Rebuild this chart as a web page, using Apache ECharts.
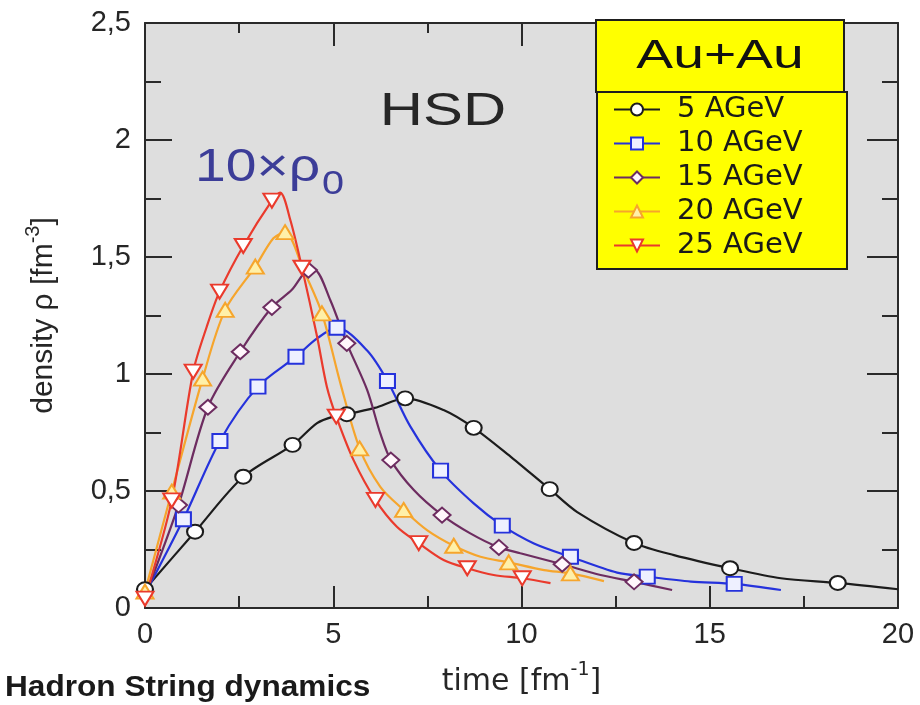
<!DOCTYPE html>
<html><head><meta charset="utf-8">
<script src="https://cdn.jsdelivr.net/npm/echarts@6/dist/echarts.min.js"></script>
<style>html,body{margin:0;padding:0;background:#fff}#c{width:920px;height:705px}</style>
</head><body><div id="c"></div>
<script>
// ---------- data ----------
const seriesNames = ['5 AGeV', '10 AGeV', '15 AGeV', '20 AGeV', '25 AGeV'];
const xTickLabels = ['0', '5', '10', '15', '20'];
const yTickLabels = ['0', '0,5', '1', '1,5', '2', '2,5'];

// 5 AGeV (curve + markers)
const curve5 = [[0,0.08],[1.33,0.326],[2.61,0.561],[3.92,0.697],[4.57,0.79],[5.0,0.818],[5.36,0.828],[6.1,0.855],[6.91,0.896],[7.93,0.846],[8.73,0.77],[9.71,0.647],[10.24,0.576],[10.75,0.508],[11.48,0.41],[12.99,0.278],[14.05,0.226],[15.54,0.17],[16.89,0.127],[18.4,0.107],[20,0.08]];
const marks5 = [[0,0.08],[1.33,0.326],[2.61,0.561],[3.92,0.697],[5.36,0.828],[6.91,0.896],[8.73,0.77],[10.75,0.508],[12.99,0.278],[15.54,0.17],[18.4,0.107]];
// 10 AGeV
const curve10 = [[0,0.06],[1.02,0.379],[1.99,0.714],[3.0,0.946],[4.01,1.074],[4.57,1.152],[5.1,1.198],[5.9,1.1],[6.44,0.97],[7.05,0.775],[7.85,0.587],[8.73,0.447],[9.49,0.352],[10.33,0.276],[11.3,0.219],[12.54,0.151],[13.34,0.134],[14.5,0.113],[15.65,0.103],[16.89,0.077]];
const marks10 = [[1.02,0.379],[1.99,0.714],[3.0,0.946],[4.01,1.074],[5.1,1.198],[6.44,0.97],[7.85,0.587],[9.49,0.352],[11.3,0.219],[13.34,0.134],[15.65,0.103]];
// 15 AGeV
const curve15 = [[0,0.05],[0.89,0.44],[1.67,0.858],[2.53,1.095],[3.37,1.285],[3.9,1.36],[4.34,1.444],[4.5,1.445],[4.92,1.316],[5.36,1.131],[5.9,0.932],[6.25,0.746],[6.53,0.632],[7.14,0.504],[7.89,0.397],[8.64,0.319],[9.4,0.259],[9.97,0.234],[11.08,0.187],[12.1,0.141],[12.99,0.112],[14.0,0.077]];
const marks15 = [[0.89,0.44],[1.67,0.858],[2.53,1.095],[3.37,1.285],[4.34,1.444],[5.36,1.131],[6.53,0.632],[7.89,0.397],[9.4,0.259],[11.08,0.187],[12.99,0.112]];
// 20 AGeV
const curve20 = [[0,0.07],[0.71,0.497],[1.53,0.98],[2.13,1.274],[2.93,1.459],[3.41,1.58],[3.72,1.606],[4.21,1.444],[4.7,1.259],[5.19,0.96],[5.7,0.682],[6.25,0.518],[6.87,0.419],[7.49,0.333],[8.2,0.266],[8.91,0.219],[9.66,0.195],[10.6,0.162],[11.3,0.148],[12.19,0.115]];
const marks20 = [[0,0.07],[0.71,0.497],[1.53,0.98],[2.13,1.274],[2.93,1.459],[3.72,1.606],[4.7,1.259],[5.7,0.682],[6.87,0.419],[8.2,0.266],[9.66,0.195],[11.3,0.148]];
// 25 AGeV
const curve25 = [[0,0.04],[0.71,0.46],[1.28,1.01],[1.64,1.202],[1.98,1.352],[2.61,1.547],[3.37,1.741],[3.59,1.775],[3.86,1.658],[4.17,1.454],[4.57,1.16],[4.83,0.946],[5.08,0.818],[5.54,0.632],[6.12,0.462],[6.69,0.347],[7.27,0.277],[7.93,0.205],[8.56,0.17],[9.26,0.141],[10.02,0.127],[10.77,0.106]];
const marks25 = [[0,0.04],[0.71,0.46],[1.28,1.01],[1.98,1.352],[2.61,1.547],[3.37,1.741],[4.17,1.454],[5.08,0.818],[6.12,0.462],[7.27,0.277],[8.56,0.17],[10.02,0.127]];

const curves = [curve5, curve10, curve15, curve20, curve25];
const marks = [marks5, marks10, marks15, marks20, marks25];

// ---------- styles ----------
const styles = [
  {color: '#1c1c1c', fill: '#ffffff', symbol: 'circle',   rotate: 0,   size: [16, 14]},
  {color: '#2532dc', fill: '#eef0ff', symbol: 'rect',     rotate: 0,   size: [15, 14]},
  {color: '#6d2c60', fill: '#fff6fb', symbol: 'diamond',  rotate: 0,   size: [17, 15]},
  {color: '#f6a52c', fill: '#fff0a8', symbol: 'triangle', rotate: 0,   size: [17, 14]},
  {color: '#ea3a2c', fill: '#ffffff', symbol: 'triangle', rotate: 180, size: [17, 14]}
];

const series = [];
seriesNames.forEach((name, i) => {
  const s = styles[i];
  series.push({
    name: name, type: 'line', data: curves[i], smooth: 0.3,
    showSymbol: false, symbol: s.symbol, symbolSize: s.size, symbolRotate: s.rotate,
    lineStyle: {color: s.color, width: 2.2},
    itemStyle: {color: s.fill, borderColor: s.color, borderWidth: 2},
    z: 2 + i * 0.01, silent: true
  });
});
seriesNames.forEach((name, i) => {
  const s = styles[i];
  series.push({
    name: name, type: 'scatter', data: marks[i],
    symbol: s.symbol, symbolSize: s.size, symbolRotate: s.rotate,
    itemStyle: {color: s.fill, borderColor: s.color, borderWidth: 2, opacity: 1},
    z: 4 + i * 0.01, silent: true
  });
});

const frame = {show: true, onZero: false, lineStyle: {color: '#2a2a2a', width: 2}};
const tickStyle = {color: '#2a2a2a', width: 2};

const chart = echarts.init(document.getElementById('c'), null, {renderer: 'canvas'});
chart.setOption({
  animation: false,
  backgroundColor: '#ffffff',
  grid: {left: 145, top: 23, right: 22, bottom: 97, show: true, backgroundColor: '#dedede', borderWidth: 0,
         containLabel: false, outerBoundsMode: 'none'},
  xAxis: [
    {
      type: 'value', position: 'bottom', min: 0, max: 20, interval: 5,
      axisLine: frame,
      axisTick: {show: true, inside: true, length: 22, lineStyle: tickStyle},
      minorTick: {show: true, splitNumber: 2, length: 12, lineStyle: tickStyle},
      splitLine: {show: false}, minorSplitLine: {show: false},
      axisLabel: {
        fontSize: 29, fontFamily: 'Liberation Sans', color: '#262626', margin: 12,
        formatter: v => xTickLabels[Math.round(v / 5)]
      },
      name: 'time [fm{sup|-1}]', nameLocation: 'middle', nameGap: 53,
      nameTextStyle: {
        fontSize: 30, lineHeight: 42, fontFamily: 'DejaVu Sans', color: '#262626',
        rich: {sup: {fontSize: 19, fontFamily: 'DejaVu Sans', color: '#262626', verticalAlign: 'top'}}
      }
    },
    {
      type: 'value', position: 'top', min: 0, max: 20, interval: 5,
      axisLine: frame,
      axisTick: {show: true, inside: true, length: 23, lineStyle: tickStyle},
      minorTick: {show: true, splitNumber: 2, length: 10, lineStyle: tickStyle},
      splitLine: {show: false}, axisLabel: {show: false}
    }
  ],
  yAxis: [
    {
      type: 'value', position: 'left', min: 0, max: 2.5, interval: 0.5,
      axisLine: frame,
      axisTick: {show: true, inside: true, length: 27, lineStyle: tickStyle},
      minorTick: {show: true, splitNumber: 2, length: 16, lineStyle: tickStyle},
      splitLine: {show: false}, minorSplitLine: {show: false},
      axisLabel: {
        fontSize: 29, fontFamily: 'Liberation Sans', color: '#262626', margin: 14,
        formatter: v => yTickLabels[Math.round(v / 0.5)]
      },
      name: 'density ρ [fm{sup|-3}]', nameLocation: 'middle', nameGap: 80,
      nameTextStyle: {
        fontSize: 30, lineHeight: 42, fontFamily: 'Liberation Sans', color: '#262626',
        rich: {sup: {fontSize: 20, fontFamily: 'Liberation Sans', color: '#262626', verticalAlign: 'top'}}
      }
    },
    {
      type: 'value', position: 'right', min: 0, max: 2.5, interval: 0.5,
      axisLine: frame,
      axisTick: {show: true, inside: true, length: 31, lineStyle: tickStyle},
      minorTick: {show: true, splitNumber: 2, length: 16, lineStyle: tickStyle},
      splitLine: {show: false}, axisLabel: {show: false}
    }
  ],
  legend: {
    orient: 'vertical', left: 597, top: 92,
    data: seriesNames,
    itemWidth: 46, itemHeight: 15, itemGap: 5,
    padding: [3, 10, 9, 16],
    backgroundColor: '#ffff00', borderColor: '#1e1e1e', borderWidth: 2, borderRadius: 0,
    selectedMode: false,
    textStyle: {fontFamily: 'DejaVu Sans', fontSize: 29, color: '#1a1a1a', lineHeight: 29, padding: [0, 0, 0, 12], width: 160}
  },
  graphic: [
    {type: 'rect', shape: {x: 596, y: 20, width: 248, height: 72},
     style: {fill: '#ffff00', stroke: '#1e1e1e', lineWidth: 2}, z: 100},
    {type: 'text', x: 720, y: 57, scaleX: 1.38, z: 101,
     style: {text: 'Au+Au', fontSize: 40, fontFamily: 'Liberation Sans', fill: '#111', align: 'center', verticalAlign: 'middle'}},
    {type: 'text', x: 443, y: 112, scaleX: 1.3, z: 50,
     style: {text: 'HSD', fontSize: 46, fontFamily: 'Liberation Sans', fill: '#262626', align: 'center', verticalAlign: 'middle'}},
    {type: 'text', x: 195, y: 168, scaleX: 1.2, z: 50,
     style: {text: '10×ρ', fontSize: 46, fontFamily: 'Liberation Sans', fill: '#3c3d98', align: 'left', verticalAlign: 'middle'}},
    {type: 'text', x: 322, y: 185, scaleX: 1.2, z: 50,
     style: {text: '0', fontSize: 33, fontFamily: 'Liberation Sans', fill: '#3c3d98', align: 'left', verticalAlign: 'middle'}},
    {type: 'text', x: 5, y: 688, scaleX: 1.09, z: 50,
     style: {text: 'Hadron String dynamics', fontSize: 29, fontWeight: 'bold', fontFamily: 'Liberation Sans', fill: '#1a1a1a', align: 'left', verticalAlign: 'middle'}}
  ],
  series: series
});
</script></body></html>
